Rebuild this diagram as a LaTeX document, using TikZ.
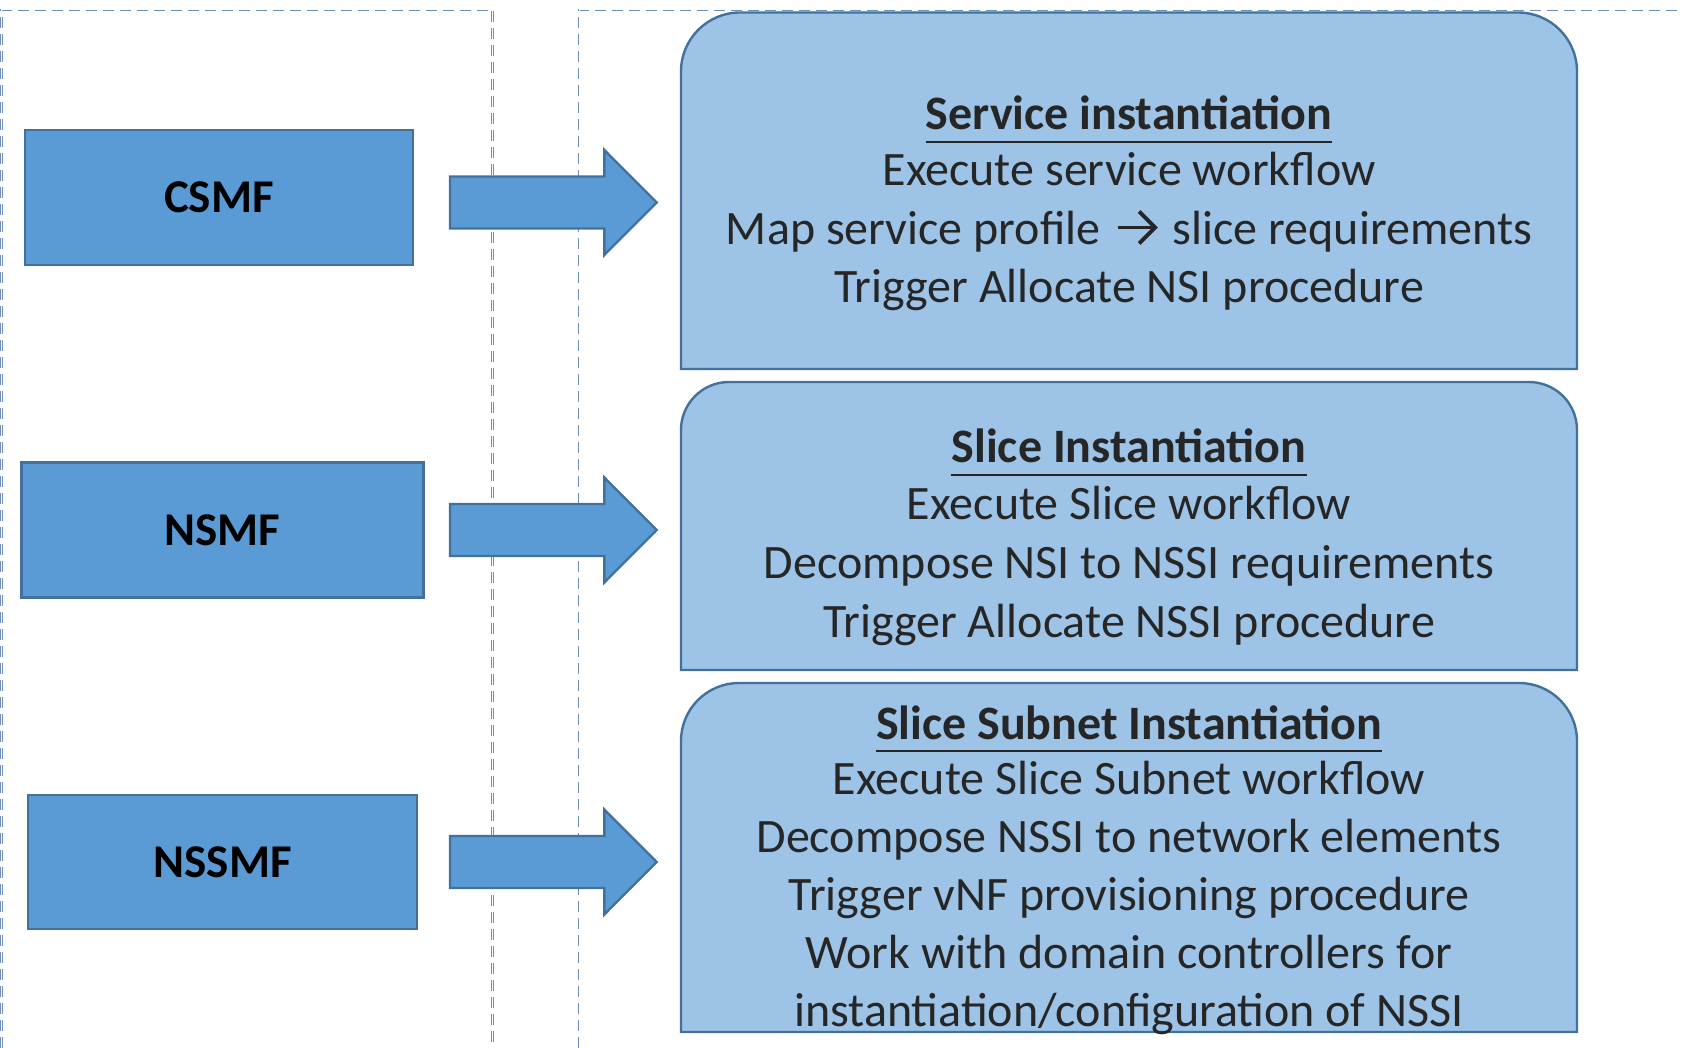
\documentclass[tikz,border=0pt]{standalone}
\usepackage{fontspec}
\setmainfont{Carlito}

\definecolor{fnfill}{HTML}{5B9BD5}
\definecolor{stagefill}{HTML}{9DC3E6}
\definecolor{edgeblue}{HTML}{41719C}
\definecolor{framecol}{HTML}{6F8FB5}
\definecolor{txt}{HTML}{262626}

% inline mapping arrow used in the first stage box
\newsavebox\maparrow
\sbox\maparrow{\begin{tikzpicture}[baseline=0pt]
  \draw[txt, line width=3.8pt] (0pt,17pt) -- (37pt,17pt);
  \draw[txt, line width=3.8pt, line join=miter] (21pt,1pt) -- (37pt,17pt) -- (21pt,33pt);
\end{tikzpicture}}

\tikzset{
  frameline/.style={draw=framecol, line width=0.8pt, double=white, double distance=1pt,
                    dash pattern=on 11pt off 6pt},
  fnbox/.style={draw=edgeblue, fill=fnfill, line width=2.6pt, inner sep=0pt,
                font=\fontsize{47pt}{56pt}\selectfont\bfseries, text=black},
  stagebox/.style={draw=edgeblue, fill=stagefill, line width=2.4pt},
  arrowbody/.style={draw=edgeblue, fill=fnfill, line width=2.4pt, line join=miter},
  line/.style={anchor=base, inner sep=0pt, text=txt, font=\fontsize{48pt}{56pt}\selectfont},
  title/.style={line, font=\fontsize{48pt}{56pt}\selectfont\bfseries},
  uline/.style={draw=txt, line width=2.6pt},
  pics/blockarrow/.style={code={
    \draw[arrowbody] (0,-26) -- (154.3,-26) -- (154.3,-52.5) -- (206.7,0)
      -- (154.3,52.5) -- (154.3,26) -- (0,26) -- cycle;}}
}

\begin{document}
\begin{tikzpicture}[x=1pt,y=-1pt]
\useasboundingbox (0,0) rectangle (1682,1048);

% dashed frames of the two columns
\draw[frameline] (1.5,1048) -- (1.5,10) -- (492.5,10) -- (492.5,1048);
\draw[frameline] (579,1048) -- (579,10) -- (1682,10);

% management functions
\node[fnbox, minimum width=388pt, minimum height=135pt] (csmf)  at (218.9,197.4) {CSMF};
\node[fnbox, minimum width=402pt, minimum height=135pt] (nsmf)  at (222.6,529.9) {NSMF};
\node[fnbox, minimum width=389pt, minimum height=134pt] (nssmf) at (222.6,862.0) {NSSMF};

% block arrows
\pic at (450,202.5) {blockarrow};
\pic at (450,530) {blockarrow};
\pic at (450,862) {blockarrow};

% stage boxes (rounded top corners)
\draw[stagebox] (681,369) -- (681,71.5) arc[start angle=180, end angle=90, radius=59pt]
  -- (1518,12.5) arc[start angle=90, end angle=0, radius=59pt] -- (1577,369) -- cycle;
\draw[stagebox] (681,670) -- (681,430) arc[start angle=180, end angle=90, radius=48pt]
  -- (1529,382) arc[start angle=90, end angle=0, radius=48pt] -- (1577,670) -- cycle;
\draw[stagebox] (681,1032) -- (681,741) arc[start angle=180, end angle=90, radius=58pt]
  -- (1519,683) arc[start angle=90, end angle=0, radius=58pt] -- (1577,1032) -- cycle;

% service instantiation
\node[title] (t1) at (1129,130) {Service instantiation};
\draw[uline] ([yshift=-12pt]t1.base west) -- ([yshift=-12pt]t1.base east);
\node[line] (a1) at (1129,186) {Execute service workflow};
\node[line] (a2) at (1129,244.5) {Map service profile \kern5pt\usebox\maparrow\kern5pt{} slice requirements};
\node[line] (a3) at (1129,302.5) {Trigger Allocate NSI procedure};

% slice instantiation
\node[title] (t2) at (1129,463) {Slice Instantiation};
\draw[uline] ([yshift=-12pt]t2.base west) -- ([yshift=-12pt]t2.base east);
\node[line] (b1) at (1129,519) {Execute Slice workflow};
\node[line] (b2) at (1129,578) {Decompose NSI to NSSI requirements};
\node[line] (b3) at (1129,637) {Trigger Allocate NSSI procedure};

% slice subnet instantiation
\node[title] (t3) at (1129,739) {Slice Subnet Instantiation};
\draw[uline] ([yshift=-12pt]t3.base west) -- ([yshift=-12pt]t3.base east);
\node[line] (c1) at (1129,794) {Execute Slice Subnet workflow};
\node[line] (c2) at (1129,852) {Decompose NSSI to network elements};
\node[line] (c3) at (1129,910) {Trigger vNF provisioning procedure};
\node[line] (c4) at (1129,968) {Work with domain controllers for};
\node[line] (c5) at (1129,1026.5) {instantiation/configuration of NSSI};
\end{tikzpicture}
\end{document}
